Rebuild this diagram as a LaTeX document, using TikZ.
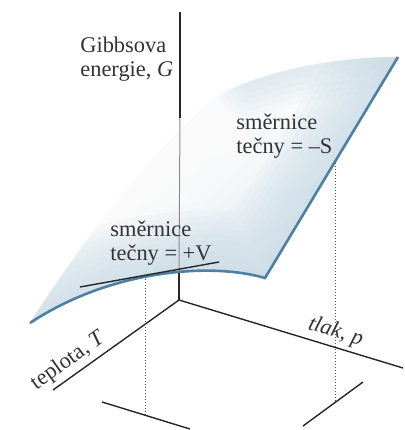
\documentclass[tikz,border=0pt]{standalone}
\usepackage{fontspec}
\setmainfont{Liberation Serif}
\definecolor{surf}{HTML}{C9DBE6}
\definecolor{edgeblue}{HTML}{4D80A2}

\begin{document}
\begin{tikzpicture}[
  x=0.5pt, y=-0.5pt,
  font=\fontsize{11.2}{13}\selectfont,
  ax/.style={black!85, line width=0.7pt},
  dots/.style={black!70, densely dotted, line width=0.5pt},
  rim/.style={edgeblue, line width=1.3pt},
  glow/.style={surf, line join=round, line cap=round, draw opacity=#1},
  lbl/.style={align=left, anchor=base west, inner sep=0, text=black!80},
]
  \useasboundingbox (0,0) rectangle (404,430);

  \foreach \name/\x/\y in {O/179/300, gtop/180/12, gmid/180/118, gsurf/179/272,
      tend/53/390, pend/403/368, a/30/323, b/265/278, c/398/57, d/215/97,
      tl/80/287, tr/219/262, bl1/102/402, bl2/190/429, br1/303/426, br2/363/382,
      ql/146/279, qlb/146/415, qr/336/160, qrb/336/402}
    \coordinate (\name) at (\x,\y);

  % the surface G(T,p), pale and fading towards the upper left
  \begin{scope}
    \clip (a) .. controls (110,270) and (210,262) .. (b) -- (c)
      .. controls (330,57) and (260,72) .. (d) .. controls (150,150) and (70,260) .. (a);
    \shade[shading angle=50, top color=white, middle color=white, bottom color=surf!60] (20,50) rectangle (404,330);
    \foreach \w in {90,80,...,10}
      \draw[white, draw opacity=0.18, line width=\w pt] (d) .. controls (150,150) and (70,260) .. (a);
    \foreach \w in {60,54,...,6}
      \draw[glow=0.11, line width=\w pt] (a) .. controls (110,270) and (210,262) .. (b) -- (c);
    \foreach \w in {36,30,...,6}
      \draw[glow=0.11, line width=\w pt] (c) .. controls (345,57) and (295,64) .. (250,80);
  \end{scope}

  % axes
  \draw[ax, line width=1pt] (gtop) -- (gmid);
  \draw[black!45, line width=0.5pt] (gmid) -- (gsurf);
  \draw[ax] (gsurf) -- (O);
  \draw[ax] (O) -- node[pos=0.81, sloped, above=2pt, inner sep=0, text=black!80] {teplota, \textit{T}} (tend);
  \draw[ax] (O) -- node[pos=0.68, sloped, above=2pt, inner sep=0, text=black!80] {\textit{tlak, p}} (pend);

  \draw[dots] (ql) -- (qlb);
  \draw[dots] (qr) -- (qrb);
  \draw[ax] (bl1) -- (bl2);
  \draw[ax] (br1) -- (br2);

  % edges and tangent
  \draw[rim] (a) .. controls (110,270) and (210,262) .. (b) -- (c);
  \draw[ax] (tl) -- (tr);

  \node[lbl] (gl) at (80,76) {Gibbsova\\[-1pt]energie, \textit{G}};
  \node[lbl] (sl) at (236,153) {směrnice\\[-1pt]tečny = –S};
  \node[lbl] (vl) at (110,260) {směrnice\\[-1pt]tečny = +V};
\end{tikzpicture}
\end{document}
